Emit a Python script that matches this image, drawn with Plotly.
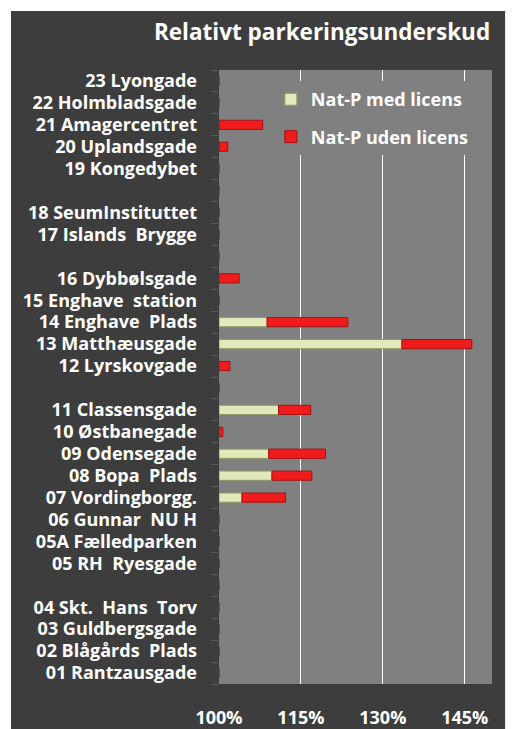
import plotly.graph_objects as go

# rows from top to bottom, blank entries are spacer rows
omraader = ["23 Lyongade", "22 Holmbladsgade", "21 Amagercentret", "20 Uplandsgade",
            "19 Kongedybet", " ", "18 SeumInstituttet", "17 Islands  Brygge", "  ",
            "16 Dybbølsgade", "15 Enghave  station", "14 Enghave  Plads", "13 Matthæusgade",
            "12 Lyrskovgade", "   ", "11 Classensgade", "10 Østbanegade", "09 Odensegade",
            "08 Bopa  Plads", "07 Vordingborgg.", "06 Gunnar  NU H", "05A Fælledparken",
            "05 RH  Ryesgade", "    ", "04 Skt.  Hans  Torv", "03 Guldbergsgade",
            "02 Blågårds  Plads", "01 Rantzausgade"]

# percent points above 100 %
med_licens = [0, 0, 0, 0, 0, 0, 0, 0, 0,
              0, 0, 8.8, 33.5, 0, 0, 10.9, 0, 9.1, 9.7, 4.2,
              0, 0, 0, 0, 0, 0, 0, 0]
uden_licens = [0, 0, 8.0, 1.6, 0, 0, 0, 0, 0,
               3.7, 0, 14.8, 12.8, 2.0, 0, 5.9, 0.7, 10.4, 7.3, 8.0,
               0, 0, 0, 0, 0, 0, 0, 0]

tick_vals = [100, 115, 130, 145]
tick_text = ["100%", "115%", "130%", "145%"]

base_red = [100 + g for g in med_licens]

fnt = dict(family="Open Sans", color="white", weight=700)

fig = go.Figure()
fig.add_trace(go.Bar(y=omraader, x=med_licens, base=100, orientation="h",
                     name="Nat-P med licens", legendgroup="a",
                     marker=dict(color="#e2eabc", line=dict(color="#8e9c62", width=1))))
fig.add_trace(go.Bar(y=omraader, x=uden_licens, base=base_red, orientation="h",
                     name="Nat-P uden licens", legendgroup="b",
                     marker=dict(color="#f01c1c", line=dict(color="#a81010", width=1))))

fig.update_layout(
    width=507, height=721,
    margin=dict(l=211, r=23, t=62, b=45),
    paper_bgcolor="#3d3d3d",
    plot_bgcolor="#808080",
    barmode="overlay",
    bargap=0.58,
    showlegend=True,
    title=dict(text="Relativt parkeringsunderskud", x=0.951, xanchor="right",
               y=0.967, yanchor="middle", font=dict(size=22.5, **fnt)),
    legend=dict(x=0.19, y=0.982, xanchor="left", yanchor="top",
                bgcolor="#808080", traceorder="grouped", tracegroupgap=11,
                font=dict(size=18, **fnt), itemwidth=30),
    xaxis=dict(range=[100, 150], tickvals=tick_vals, ticktext=tick_text,
               showgrid=True, gridcolor="white", gridwidth=1, zeroline=False,
               showline=False, ticks="outside", ticklen=17,
               tickcolor="rgba(0,0,0,0)", automargin=False,
               tickfont=dict(size=18, **fnt)),
    yaxis=dict(autorange="reversed", tickmode="array", tickvals=omraader,
               tickson="boundaries", ticks="outside",
               ticklen=7, tickcolor="#5c5c5c", showgrid=False, showline=False,
               ticklabelstandoff=21, automargin=False,
               tickfont=dict(size=18, **fnt)),
    shapes=[
        dict(type="rect", xref="paper", yref="paper", x0=-0.9, x1=-0.762,
             y0=-0.2, y1=1.2, fillcolor="white", line_width=0, layer="above"),
        dict(type="rect", xref="paper", yref="paper", x0=-0.9, x1=1.2,
             y0=1.096, y1=1.2, fillcolor="white", line_width=0, layer="above"),
        dict(type="rect", xref="paper", yref="paper", x0=1.048, x1=1.2,
             y0=-0.2, y1=1.2, fillcolor="white", line_width=0, layer="above"),
    ],
)

fig.write_html("out.html")
